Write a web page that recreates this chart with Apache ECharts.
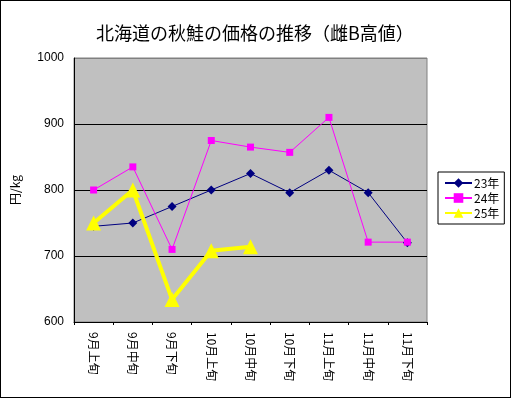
<!DOCTYPE html>
<html>
<head>
<meta charset="utf-8">
<script src="https://cdn.jsdelivr.net/npm/echarts@6/dist/echarts.min.js"></script>
<style>
    html, body { margin: 0; padding: 0; background: #fff; }
    #chart1 { width: 511px; height: 398px; box-sizing: border-box; border: 1px solid #000; }
</style>
</head>
<body>
<div id="chart1"></div>
<script>
    var categories = ['9月上旬', '9月中旬', '9月下旬', '10月上旬', '10月中旬', '10月下旬', '11月上旬', '11月中旬', '11月下旬'];
    var data23 = [745, 750, 775, 800, 825, 796, 830, 796, 720];
    var data24 = [800, 835, 710, 875, 865, 857, 910, 721, 721];
    var data25 = [750, 800, 634, 708, 714];

    var font = "'Noto Sans CJK JP', sans-serif";

    var dom = document.getElementById("chart1");
    var myChart = echarts.init(dom);

    var option = {
        animation: false,
        textStyle: {fontFamily: font, color: '#000'},
        title: {
            text: '北海道の秋鮭の価格の推移（雌B高値）',
            left: 90,
            top: 18,
            textStyle: {fontFamily: font, fontSize: 18, fontWeight: 'normal', color: '#000'}
        },
        legend: {
            orient: 'vertical',
            left: 437,
            top: 171,
            padding: [5, 5, 5, 6],
            itemGap: 3,
            itemWidth: 27,
            itemHeight: 12,
            backgroundColor: '#fff',
            borderColor: '#000',
            borderWidth: 1,
            borderRadius: 0,
            textStyle: {fontFamily: font, fontSize: 12, color: '#000', padding: [0, 0, 0, -3]},
            data: ['23年', '24年', '25年']
        },
        grid: {
            left: 70,
            top: 57,
            right: 83,
            bottom: 75,
            show: true,
            backgroundColor: '#c0c0c0',
            borderColor: '#808080',
            borderWidth: 1
        },
        xAxis: {
            type: 'category',
            data: categories,
            boundaryGap: true,
            axisLine: {lineStyle: {color: '#000', width: 1}},
            axisTick: {show: true, length: 3, interval: 0, lineStyle: {color: '#000'}},
            axisLabel: {rotate: -90, interval: 0, margin: 10, fontSize: 12, color: '#000', fontFamily: font}
        },
        yAxis: {
            type: 'value',
            min: 600,
            max: 1000,
            interval: 100,
            name: '円/kg',
            nameLocation: 'middle',
            nameGap: 53,
            nameRotate: 90,
            nameTextStyle: {fontSize: 12, color: '#000', fontFamily: font},
            axisLine: {show: true, lineStyle: {color: '#000', width: 1}},
            axisTick: {show: false},
            axisLabel: {
                fontSize: 12, color: '#000', margin: 10, fontFamily: "'Liberation Sans', sans-serif",
                formatter: function (v) { return String(v); }
            },
            splitLine: {show: true, lineStyle: {color: ['#000', '#000', '#000', '#000', '#808080'], width: 1}}
        },
        series: [
            {
                name: '23年',
                type: 'line',
                data: data23,
                symbol: 'diamond',
                symbolSize: 9,
                lineStyle: {color: '#000080', width: 1},
                itemStyle: {color: '#000080'}
            },
            {
                name: '24年',
                type: 'line',
                data: data24,
                symbol: 'rect',
                symbolSize: 7,
                lineStyle: {color: '#ff00ff', width: 1},
                itemStyle: {color: '#ff00ff'}
            },
            {
                name: '25年',
                type: 'line',
                data: data25,
                symbol: 'triangle',
                symbolSize: 15,
                lineStyle: {color: '#ffff00', width: 4},
                itemStyle: {color: '#ffff00'}
            }
        ]
    };

    if (option && typeof option === "object") {
        myChart.setOption(option, true);
    }
</script>
</body>
</html>
